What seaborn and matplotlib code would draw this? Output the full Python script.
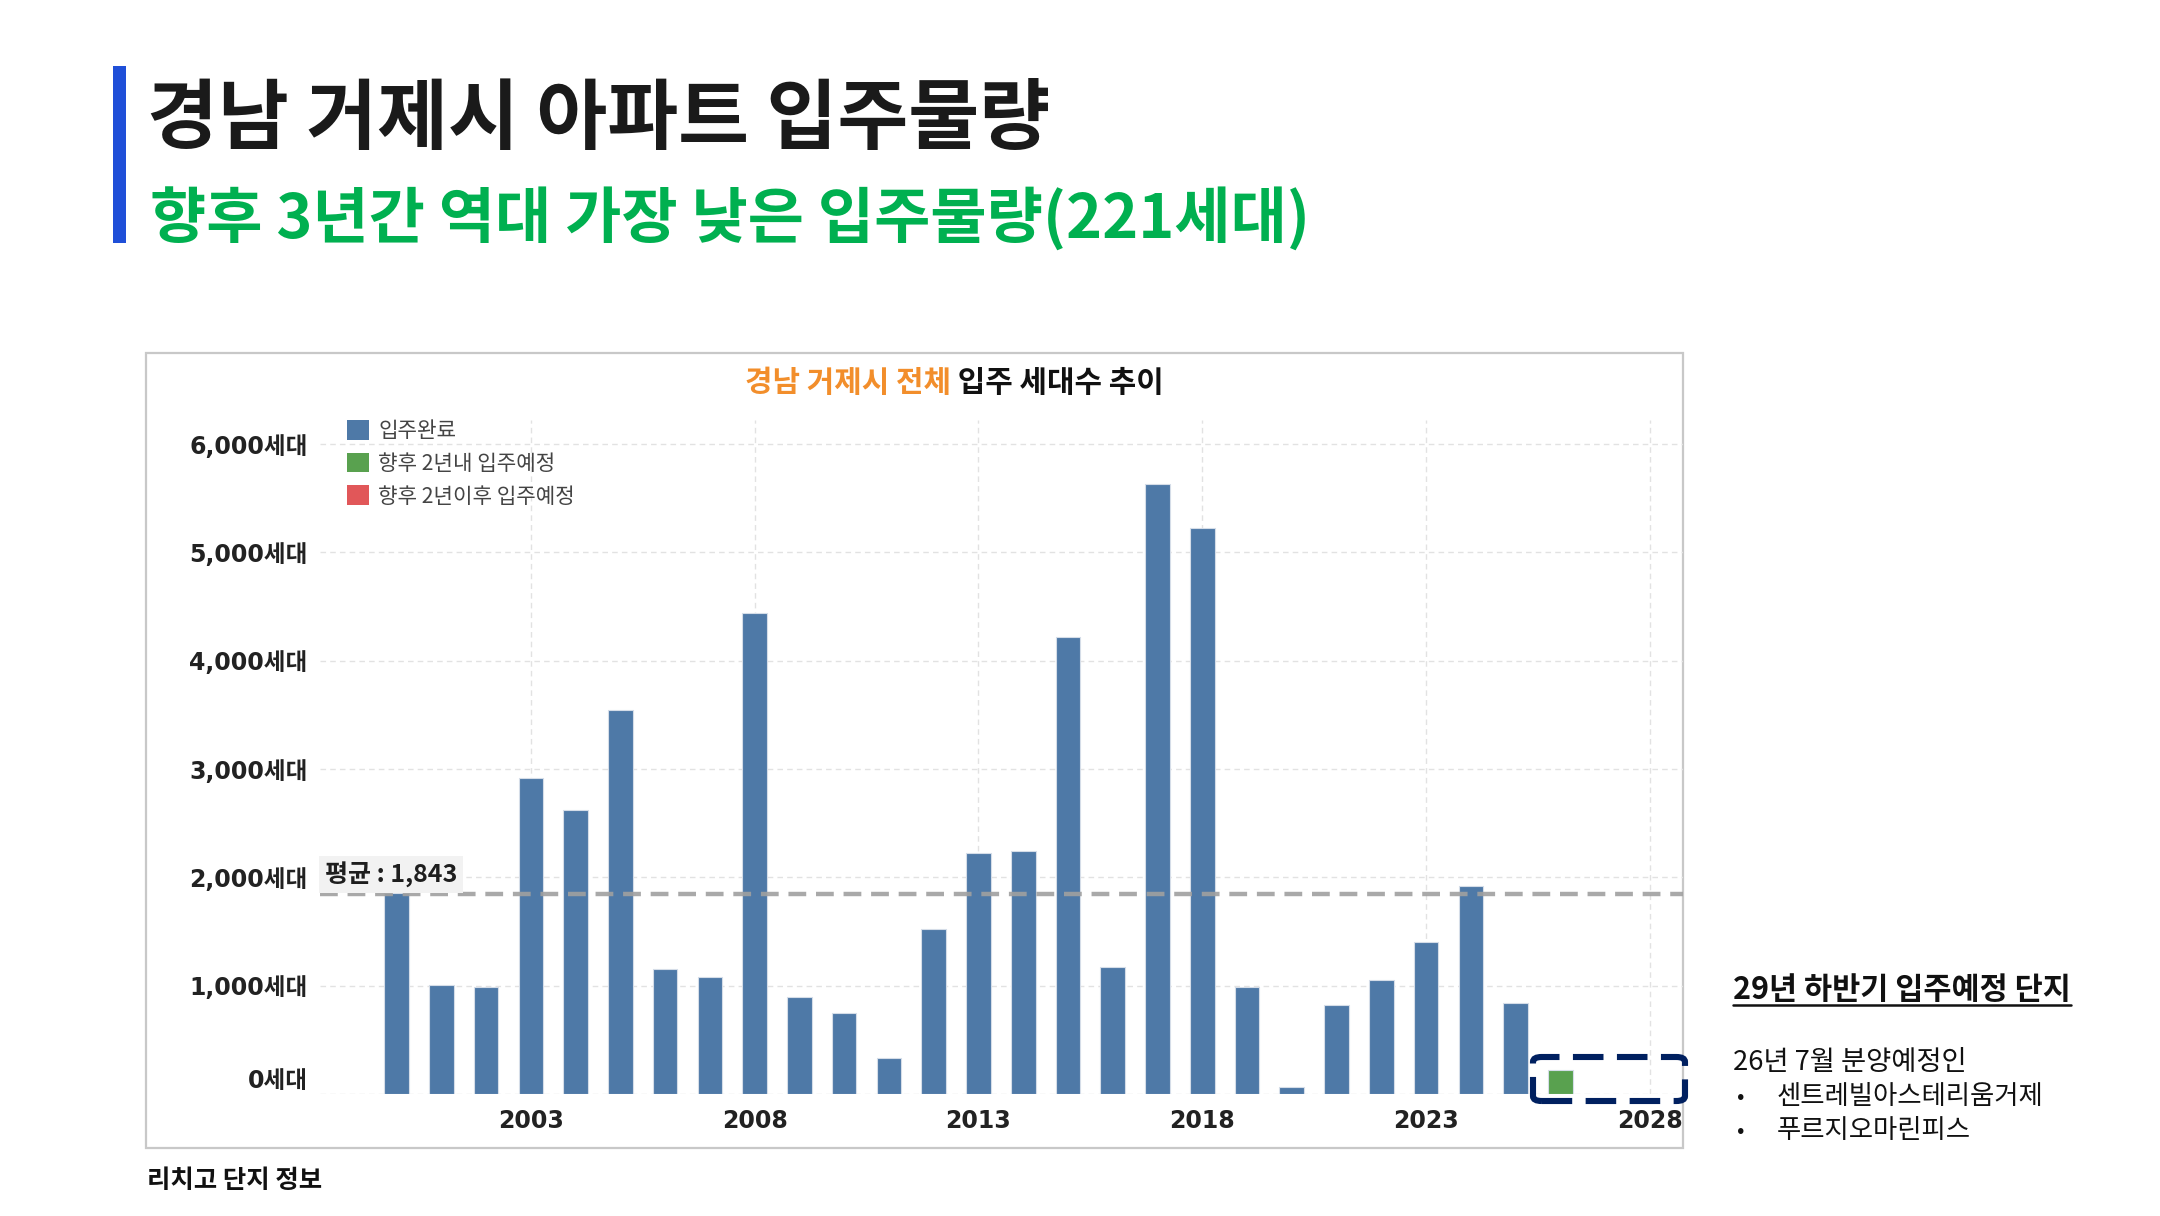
import matplotlib
matplotlib.use("Agg")
import matplotlib.pyplot as plt
from matplotlib.patches import Patch, Rectangle, FancyBboxPatch
from matplotlib.transforms import ScaledTranslation
import seaborn as sns
import pandas as pd

# ---------------- data ----------------
years = list(range(2000, 2027))
units = [1860, 1004, 991, 2920, 2625, 3550, 1157, 1080, 4445, 897, 744, 332,
         1524, 2228, 2245, 4216, 1168, 5636, 5225, 990, 62, 821, 1050, 1402,
         1922, 838, 221]
status = ["입주완료"] * 26 + ["향후 2년내 입주예정"]
legend_labels = ["입주완료", "향후 2년내 입주예정", "향후 2년이후 입주예정"]
legend_colors = ["#4e79a7", "#59a14f", "#e15759"]
average = 1843
y_ticks = [0, 1000, 2000, 3000, 4000, 5000, 6000]
x_ticks = [2003, 2008, 2013, 2018, 2023, 2028]

title = "경남 거제시 아파트 입주물량"
subtitle = "향후 3년간 역대 가장 낮은 입주물량(221세대)"
chart_title_orange = "경남 거제시 전체"
chart_title_black = " 입주 세대수 추이"
side_heading = "29년 하반기 입주예정 단지"
side_intro = "26년 7월 분양예정인"
side_items = ["센트레빌아스테리움거제", "푸르지오마린피스"]
footer = "리치고 단지 정보"

df = pd.DataFrame({"year": years, "units": units, "status": status})

# ---------------- style ----------------
sns.set_theme(style="white")
plt.rcParams["font.family"] = ["Noto Sans CJK KR", "DejaVu Sans"]
NUMFONT = ["DejaVu Sans", "Noto Sans CJK KR"]

W, H = 2160, 1216
fig = plt.figure(figsize=(W / 100, H / 100), dpi=100)
fig.patch.set_facecolor("white")


def fx(px):
    return px / W


def fy(py):
    return 1 - py / H


# chart frame
fig.patches.append(Rectangle((fx(146), fy(1148)), fx(1683) - fx(146), fy(353) - fy(1148),
                             transform=fig.transFigure, facecolor="none",
                             edgecolor="#c8c8c8", linewidth=1.6, zorder=-1))

ax = fig.add_axes([fx(320), fy(1094), fx(1683) - fx(320), fy(420) - fy(1094)])
ax.set_facecolor("none")

palette = dict(zip(legend_labels, legend_colors))
sns.barplot(data=df, x="year", y="units", hue="status", palette=palette,
            native_scale=True, dodge=False, width=0.55, legend=False,
            edgecolor="#d5dde8", linewidth=0.8, saturation=1, ax=ax, zorder=3)

ax.set_xlim(1998.29, 2028.74)
ax.set_ylim(0, 6223)
ax.set_xticks(x_ticks)
ax.set_xticklabels([str(x) for x in x_ticks], family=NUMFONT, fontsize=17,
                   fontweight="bold", color="#222222")
ax.set_yticks(y_ticks)
ax.set_yticklabels([f"{v:,}세대" for v in y_ticks], family=NUMFONT, fontsize=17,
                   fontweight="bold", color="#222222")
ax.tick_params(axis="x", length=0, pad=11)
ax.tick_params(axis="y", length=0, pad=9)
ylabs = ax.get_yticklabels()
ylabs[0].set_transform(ylabs[0].get_transform() + ScaledTranslation(0, 0.15, fig.dpi_scale_trans))
ax.set_xlabel("")
ax.set_ylabel("")
for s in ax.spines.values():
    s.set_visible(False)
ax.grid(True, axis="both", color="#e2e2e2", linestyle=(0, (4, 3)), linewidth=1.0, zorder=0)
ax.set_axisbelow(True)

# average line
ax.axhline(average, color="#a0a0a0", linestyle=(0, (4, 2.2)), linewidth=3.2, zorder=4, alpha=0.9)
ax.text(1998.4, average + 60, f"평균 : {average:,}", fontsize=18, fontweight="bold",
        color="#1e1e1e", ha="left", va="bottom", zorder=5,
        bbox=dict(boxstyle="square,pad=0.22", facecolor="#f2f2f2", edgecolor="none"))

# legend
handles = [Patch(facecolor=c, edgecolor="none", label=l) for l, c in zip(legend_labels, legend_colors)]
leg = ax.legend(handles=handles, loc="upper left", bbox_to_anchor=(0.0195, 1.0),
                frameon=False, borderpad=0, borderaxespad=0, fontsize=15.3,
                handlelength=1.05, handleheight=1.05, handletextpad=0.45, labelspacing=0.5)
for t in leg.get_texts():
    t.set_color("#444444")

# chart title (two colours)
fig.text(fx(951), fy(383), chart_title_orange, fontsize=21.5, fontweight="bold",
         color="#f28e2b", ha="right", va="center")
fig.text(fx(951), fy(383), chart_title_black, fontsize=21.5, fontweight="bold",
         color="#111111", ha="left", va="center")

# highlight box around the upcoming supply
fig.patches.append(FancyBboxPatch((fx(1533), fy(1101)), fx(1685) - fx(1533), fy(1057) - fy(1101),
                                  boxstyle="round,pad=0,rounding_size=0.004",
                                  transform=fig.transFigure, facecolor="none",
                                  edgecolor="#002060", linewidth=4.4,
                                  linestyle=(0, (5, 2.2)), zorder=10))

# slide titles
fig.patches.append(Rectangle((fx(113), fy(243)), fx(126) - fx(113), fy(66) - fy(243),
                             transform=fig.transFigure, facecolor="#1f4fd8", edgecolor="none"))
fig.text(fx(147), fy(121), title, fontsize=55.5, fontweight="bold", color="#1a1a1a",
         ha="left", va="center")
fig.text(fx(150), fy(220), subtitle, fontsize=44, fontweight="bold", color="#00b050",
         ha="left", va="center")

# side notes
sh = fig.text(fx(1733), fy(990), side_heading, fontsize=22, fontweight="bold",
              color="#111111", ha="left", va="center")
fig.text(fx(1733), fy(1063), side_intro, fontsize=19.7, color="#111111", ha="left", va="center")
for i, item in enumerate(side_items):
    yy = 1097 + i * 34
    fig.text(fx(1737), fy(yy), "•", fontsize=16, color="#111111", ha="left", va="center")
    fig.text(fx(1777), fy(yy), item, fontsize=19, color="#111111", ha="left", va="center")

fig.text(fx(147), fy(1180), footer, fontsize=18.3, fontweight="bold", color="#111111",
         ha="left", va="center")

# underline for side heading
fig.canvas.draw()
bb = sh.get_window_extent(fig.canvas.get_renderer())
fig.add_artist(plt.Line2D([bb.x0 / W, bb.x1 / W], [fy(1005), fy(1005)],
                          transform=fig.transFigure, color="#111111", linewidth=1.8))

fig.savefig("out.png", dpi=100, facecolor="white")
